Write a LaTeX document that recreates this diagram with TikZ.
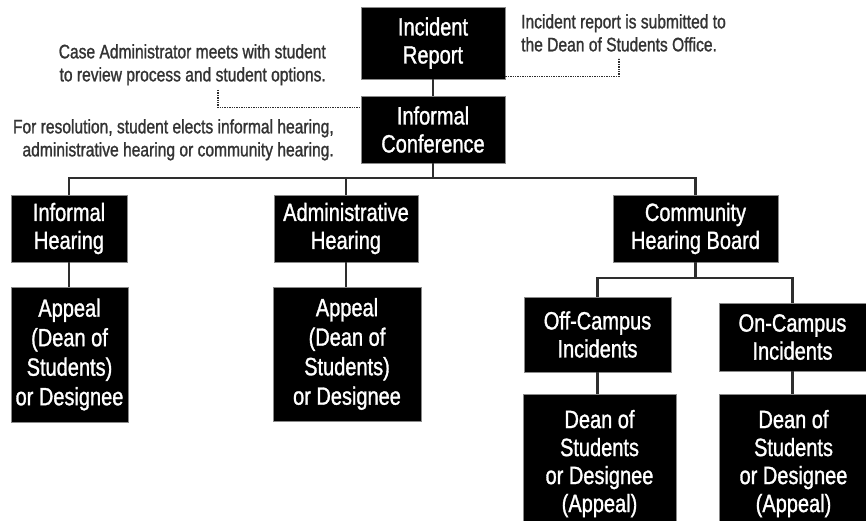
\documentclass[tikz,border=0pt]{standalone}
\usepackage{fontspec}
\setmainfont{Liberation Sans}[FakeStretch=0.8,FakeBold=1.2]
\usetikzlibrary{positioning}
\definecolor{boxline}{HTML}{8A8A8A}
\definecolor{wire}{HTML}{2E2E2E}
\definecolor{notetext}{HTML}{333333}

\begin{document}
\begin{tikzpicture}[x=1pt,y=-1pt,
  stepbox/.style={draw=boxline,line width=0.8pt,fill=black,text=white,align=center,inner sep=0pt,
                  font=\fontsize{25}{28}\selectfont},
  tallbox/.style={stepbox,font=\fontsize{25}{29.5}\selectfont},
  note/.style={text=notetext,inner sep=0pt,font=\fontsize{19.5}{23}\selectfont},
  link/.style={wire,line width=2.8pt},
  leader/.style={wire,line width=1.4pt,densely dotted}]
\useasboundingbox (0,0) rectangle (866,521);
\clip (0,0) rectangle (866,521);
% top of the chart
\node[stepbox,minimum width=144pt,minimum height=72pt] (rep) at (433,43) {Incident\\Report};
\node[stepbox,minimum width=144pt,minimum height=67pt] (conf) at (433,129.5) {Informal\\Conference};
% the three hearings
\node[stepbox,minimum width=116pt,minimum height=67pt] (ih) at (69,228.5) {Informal\\Hearing};
\node[stepbox,minimum width=144pt,minimum height=67pt] (ah) at (346,228.5) {Administrative\\Hearing};
\node[stepbox,minimum width=165pt,minimum height=67pt] (chb) at (695.5,228.5) {Community\\Hearing Board};
\node[tallbox,minimum width=117pt,minimum height=135pt] (ia) at (69.5,354.5) {Appeal\\(Dean of\\Students)\\or Designee};
\node[tallbox,minimum width=148pt,minimum height=134pt] (aa) at (347,354) {Appeal\\(Dean of\\Students)\\or Designee};
\node[stepbox,minimum width=147pt,minimum height=75pt] (off) at (597.5,334.5) {Off-Campus\\Incidents};
\node[stepbox,minimum width=147pt,minimum height=68pt] (on) at (792.5,337) {On-Campus\\Incidents};
\node[stepbox,minimum width=153pt,minimum height=134pt,text depth=0pt] (offd) at (599.5,461) {Dean of\\Students\\or Designee\\(Appeal)};
\node[stepbox,minimum width=149pt,minimum height=134pt,text depth=0pt] (ond) at (793.5,461) {Dean of\\Students\\or Designee\\(Appeal)};
% side notes
\node[note,anchor=north west,align=left] (subm) at (521,14) {Incident report is submitted to\\the Dean of Students Office.};
\node[note,anchor=north east,align=right] (meet) at (326,44) {Case Administrator meets with student\\to review process and student options.};
\node[note,anchor=north east,align=right] (elect) at (334,119) {For resolution, student elects informal hearing,\\administrative hearing or community hearing.};
% connectors
\coordinate (bus) at (433,178);
\coordinate (sub) at (695.5,278);
\draw[link] (rep.south) -- (conf.north);
\draw[link] (conf.south) -- (bus);
\draw[link] (ih.north) |- (bus) -| (chb.north);
\draw[link] (ah.north) -- (ah.north |- bus);
\draw[link] (ih.south) -- (ih.south |- ia.north);
\draw[link] (ah.south) -- (ah.south |- aa.north);
\draw[link] (chb.south) -- (sub);
\draw[link] (off.north) |- (sub) -| (on.north);
\draw[link] (off.south) -- (off.south |- offd.north);
\draw[link] (on.south) -- (on.south |- ond.north);
% dotted leaders to the notes
\coordinate (tip1) at (619,58);
\coordinate (tip2) at (218,90);
\draw[leader] ([yshift=3pt]rep.south east) -| (tip1);
\draw[leader] (tip2) |- ([yshift=-12pt]conf.north west);
\end{tikzpicture}
\end{document}
